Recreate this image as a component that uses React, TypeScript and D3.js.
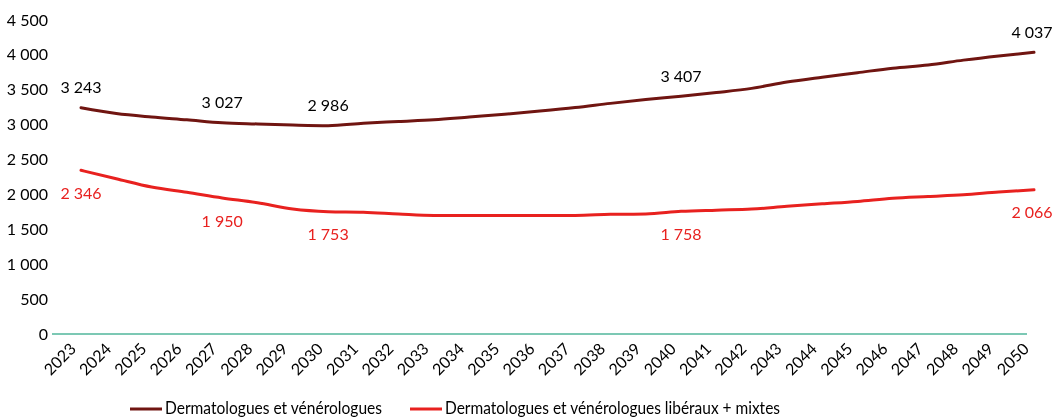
import React, { useEffect, useRef } from "react";
import * as d3 from "d3";

const years = d3.range(2023, 2051).map(String);

const totalSeries = [
  3243, 3160, 3110, 3070, 3027, 3010, 2995, 2986, 3020, 3045, 3070, 3110, 3150, 3195,
  3245, 3305, 3360, 3407, 3460, 3520, 3610, 3680, 3745, 3810, 3855, 3925, 3985, 4037,
];

const liberalSeries = [
  2346, 2225, 2106, 2030, 1950, 1880, 1790, 1753, 1745, 1720, 1700, 1700, 1700, 1700,
  1700, 1715, 1720, 1758, 1775, 1790, 1830, 1865, 1900, 1945, 1970, 1995, 2035, 2066,
];

const yTicks = [0, 500, 1000, 1500, 2000, 2500, 3000, 3500, 4000, 4500];
const labelledYears = ["2023", "2027", "2030", "2040", "2050"];

const seriesNames = [
  "Dermatologues et vénérologues",
  "Dermatologues et vénérologues libéraux + mixtes",
];
const colors = ["#701511", "#e8211f"];

const fmt = (v: number) => d3.format(",")(v).replace(/,/g, " ");
const FONT = "Lato, 'Open Sans', sans-serif";

const App: React.FC = () => {
  const svgRef = useRef<SVGSVGElement | null>(null);

  useEffect(() => {
    const width = 1055;
    const height = 417;
    const svg = d3.select(svgRef.current).attr("width", width).attr("height", height);
    svg.selectAll("*").remove();

    const x = d3.scalePoint<string>().domain(years).range([81, 1034]);
    const y = d3.scaleLinear().domain([0, 4500]).range([334, 20]);

    // y tick labels
    svg
      .append("g")
      .selectAll("text")
      .data(yTicks)
      .enter()
      .append("text")
      .attr("x", 48)
      .attr("y", (d) => y(d))
      .attr("dy", "0.35em")
      .attr("text-anchor", "end")
      .attr("font-family", FONT)
      .attr("font-size", 16)
      .attr("fill", "#000")
      .text((d) => fmt(d));

    // baseline
    svg
      .append("line")
      .attr("x1", 52)
      .attr("x2", 1027)
      .attr("y1", y(0))
      .attr("y2", y(0))
      .attr("stroke", "#7cc8b4")
      .attr("stroke-width", 2);

    // x tick labels
    svg
      .append("g")
      .selectAll("text")
      .data(years)
      .enter()
      .append("text")
      .attr(
        "transform",
        (d) => `translate(${(x(d) ?? 0) - 8}, ${y(0) + 12}) rotate(-45)`
      )
      .attr("text-anchor", "end")
      .attr("dy", "0.35em")
      .attr("font-family", FONT)
      .attr("font-size", 16)
      .attr("fill", "#000")
      .text((d) => d);

    const line = d3
      .line<number>()
      .x((_, i) => x(years[i]) ?? 0)
      .y((d) => y(d))
      .curve(d3.curveMonotoneX);

    const all = [totalSeries, liberalSeries];
    all.forEach((series, si) => {
      svg
        .append("path")
        .attr("d", line(series))
        .attr("fill", "none")
        .attr("stroke", colors[si])
        .attr("stroke-width", 3)
        .attr("stroke-linecap", "round");

      svg
        .append("g")
        .selectAll("text")
        .data(labelledYears)
        .enter()
        .append("text")
        .attr("x", (d) => Math.min(x(d) ?? 0, width - 23))
        .attr("y", (d) => y(series[years.indexOf(d)]) + (si === 0 ? -20 : 23))
        .attr("dy", "0.35em")
        .attr("text-anchor", "middle")
        .attr("font-family", FONT)
        .attr("font-size", 16)
        .attr("fill", si === 0 ? "#000" : colors[1])
        .text((d) => fmt(series[years.indexOf(d)]));
    });

    // legend
    const legendX = [130, 410];
    const legendLen = [217, 335];
    seriesNames.forEach((name, i) => {
      const g = svg.append("g").attr("transform", `translate(${legendX[i]}, 409)`);
      g.append("line")
        .attr("x1", 0)
        .attr("x2", 32)
        .attr("stroke", colors[i])
        .attr("stroke-width", 3);
      g.append("text")
        .attr("x", 35)
        .attr("y", 5)
        .attr("font-family", FONT)
        .attr("font-size", 18)
        .attr("textLength", legendLen[i])
        .attr("lengthAdjust", "spacingAndGlyphs")
        .attr("fill", "#000")
        .text(name);
    });
  }, []);

  return (
    <div style={{ position: "fixed", top: 0, left: 0 }}>
      <svg ref={svgRef} style={{ display: "block" }}></svg>
    </div>
  );
};

export default App;
